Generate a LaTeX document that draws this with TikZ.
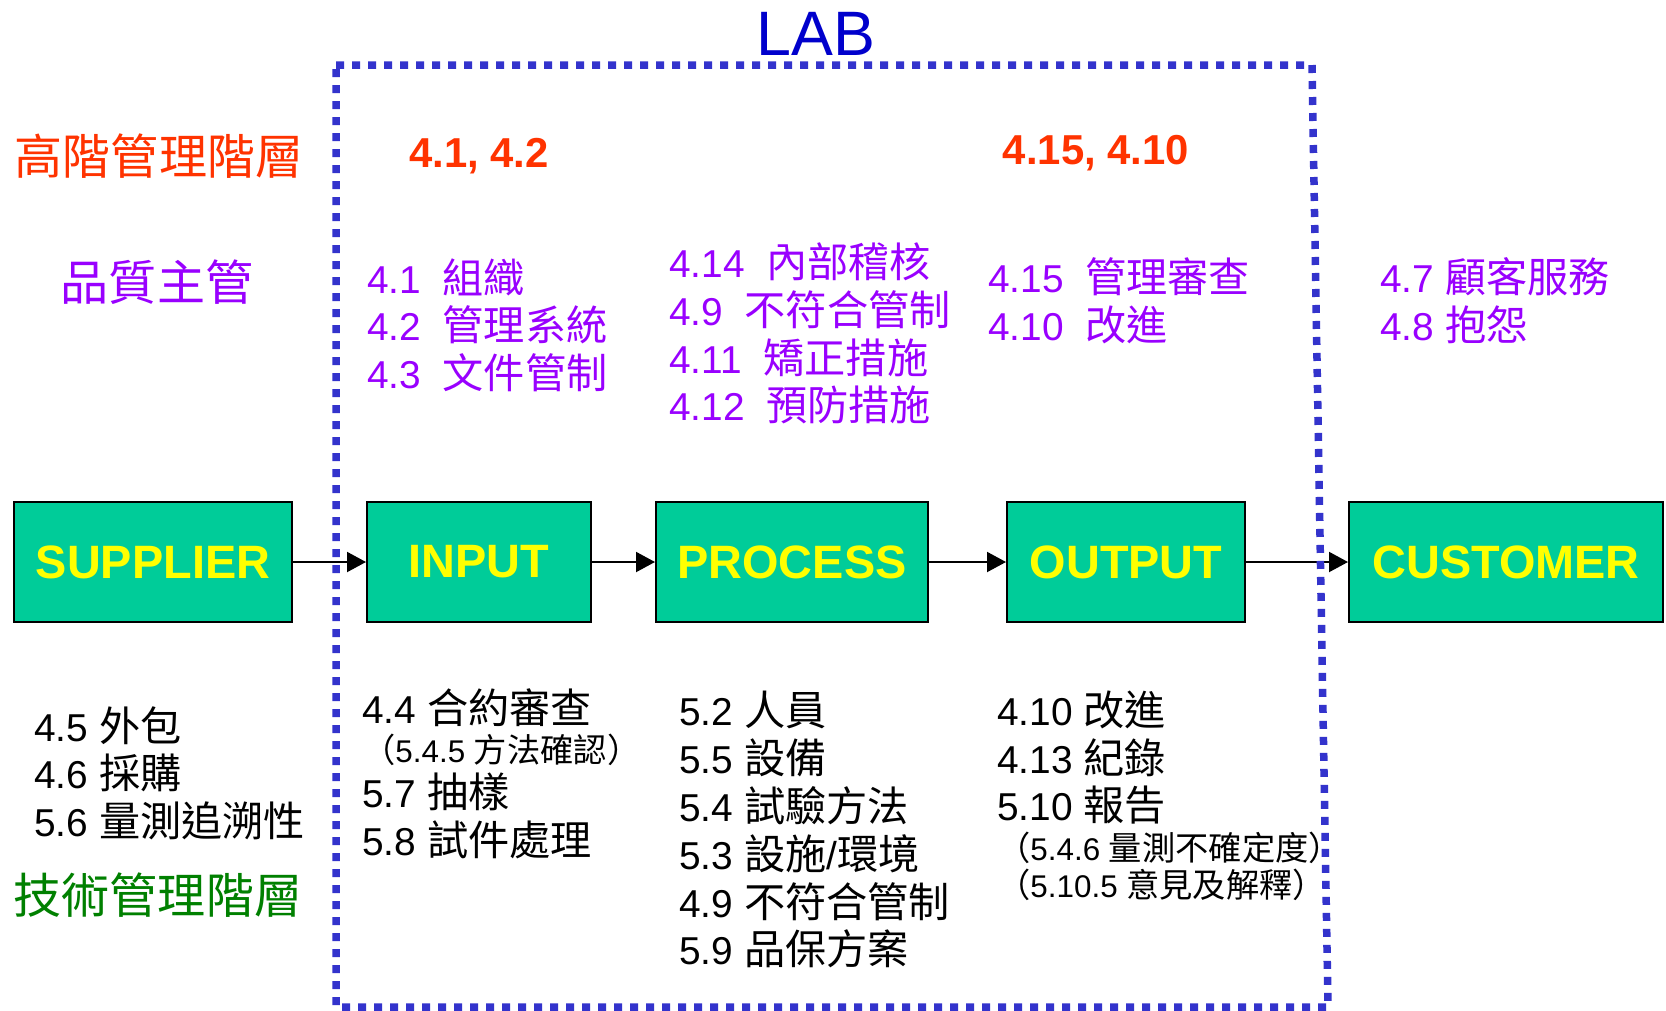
\documentclass[tikz,border=0pt]{standalone}
\usepackage{fontspec}
\setmainfont{Liberation Sans}
\newfontfamily\cjk[Scale=1.06]{Noto Sans CJK TC}
\usetikzlibrary{arrows.meta}
\definecolor{Teal}{HTML}{00CC99}
\definecolor{Lemon}{HTML}{FFFF00}
\definecolor{Scarlet}{HTML}{FF3300}
\definecolor{Violet}{HTML}{9900FF}
\definecolor{Leaf}{HTML}{008000}
\definecolor{Royal}{HTML}{0000CC}
\definecolor{Frame}{HTML}{3333CC}
\newcommand{\zh}[1]{{\cjk #1}}
\newcommand{\figsize}[1]{\fontsize{#1}{#1}\selectfont}
\tikzset{
  stagebox/.style={draw=black,line width=2bp,fill=Teal,text=Lemon,
    font=\figsize{47}\bfseries,inner sep=0bp,minimum height=120bp},
  flowarrow/.style={line width=2bp,-{Triangle[length=19bp,width=20bp]}},
  labframe/.style={draw=Frame,line width=7.5bp,dash pattern=on 8bp off 8bp},
  itemtext/.style={anchor=west,inner sep=0bp,font=\figsize{39}},
  smalltext/.style={anchor=west,inner sep=0bp,font=\figsize{31.5}},
  headtext/.style={inner sep=0bp,font=\figsize{42}\bfseries,text=Scarlet},
  tiertext/.style={inner sep=0bp,font=\figsize{45.5}\cjk}
}

\begin{document}
\begin{tikzpicture}[x=1bp,y=-1bp]
  \path[use as bounding box,fill=white] (0,0) rectangle (1666,1010);

  \node[font=\figsize{63},text=Royal,inner sep=0bp] (lab) at (816,34) {LAB};

  % management tiers on the left
  \node[tiertext,text=Scarlet] (toptier) at (159,156) {高階管理階層};
  \node[tiertext,text=Violet] (qamgr) at (157,282) {品質主管};
  \node[tiertext,text=Leaf] (techtier) at (158,895) {技術管理階層};
  \node[headtext] (topin) at (479,156) {4.1, 4.2};
  \node[headtext] (topout) at (1096,153) {4.15, 4.10};

  \node[stagebox,minimum width=278bp] (supplier) at (153,562) {SUPPLIER};
  \node[stagebox,minimum width=224bp] (input) at (479,562) {INPUT};
  \node[stagebox,minimum width=272bp] (process) at (792,562) {PROCESS};
  \node[stagebox,minimum width=238bp] (output) at (1126,562) {OUTPUT};
  \node[stagebox,minimum width=314bp] (customer) at (1506,562) {CUSTOMER};
  \draw[flowarrow] (supplier) -- (input);
  \draw[flowarrow] (input) -- (process);
  \draw[flowarrow] (process) -- (output);
  \draw[flowarrow] (output) -- (customer);

  % quality clauses
  \foreach \t [count=\i] in {4.1\ \ \zh{組織},4.2\ \ \zh{管理系統},4.3\ \ \zh{文件管制}}
    \node[itemtext,text=Violet] (qin\i) at (367,{229+48*\i}) {\t};
  \foreach \t [count=\i] in {4.14\ \ \zh{內部稽核},4.9\ \ \zh{不符合管制},
      4.11\ \ \zh{矯正措施},4.12\ \ \zh{預防措施}}
    \node[itemtext,text=Violet] (qproc\i) at (669,{214.3+47.7*\i}) {\t};
  \foreach \t [count=\i] in {4.15\ \ \zh{管理審查},4.10\ \ \zh{改進}}
    \node[itemtext,text=Violet] (qout\i) at (988,{229+48*\i}) {\t};
  \foreach \t [count=\i] in {4.7 \zh{顧客服務},4.8 \zh{抱怨}}
    \node[itemtext,text=Violet] (qcust\i) at (1380,{229+48*\i}) {\t};

  % technical clauses
  \foreach \t [count=\i] in {4.5 \zh{外包},4.6 \zh{採購},5.6 \zh{量測追溯性}}
    \node[itemtext] (tsup\i) at (34,{678+47.5*\i}) {\t};
  \node[itemtext] (tin1) at (362,708) {4.4 \zh{合約審查}};
  \node[smalltext] (tin2) at (362,750) {\zh{（}5.4.5 \zh{方法確認）}};
  \node[itemtext] (tin3) at (362,792) {5.7 \zh{抽樣}};
  \node[itemtext] (tin4) at (362,840) {5.8 \zh{試件處理}};
  \foreach \t [count=\i] in {5.2 \zh{人員},5.5 \zh{設備},5.4 \zh{試驗方法},
      5.3 \zh{設施}/\zh{環境},4.9 \zh{不符合管制},5.9 \zh{品保方案}}
    \node[itemtext] (tproc\i) at (679,{662.2+47.8*\i}) {\t};
  \foreach \t [count=\i] in {4.10 \zh{改進},4.13 \zh{紀錄},5.10 \zh{報告}}
    \node[itemtext] (tout\i) at (997,{662.5+47.5*\i}) {\t};
  \node[smalltext] (tout4) at (997,848) {\zh{（}5.4.6 \zh{量測不確定度）}};
  \node[smalltext] (tout5) at (997,885) {\zh{（}5.10.5 \zh{意見及解釋）}};

  \draw[labframe] (336,65) -- (1312,65) -- (1328,1007) -- (336,1007) -- cycle;
\end{tikzpicture}
\end{document}
